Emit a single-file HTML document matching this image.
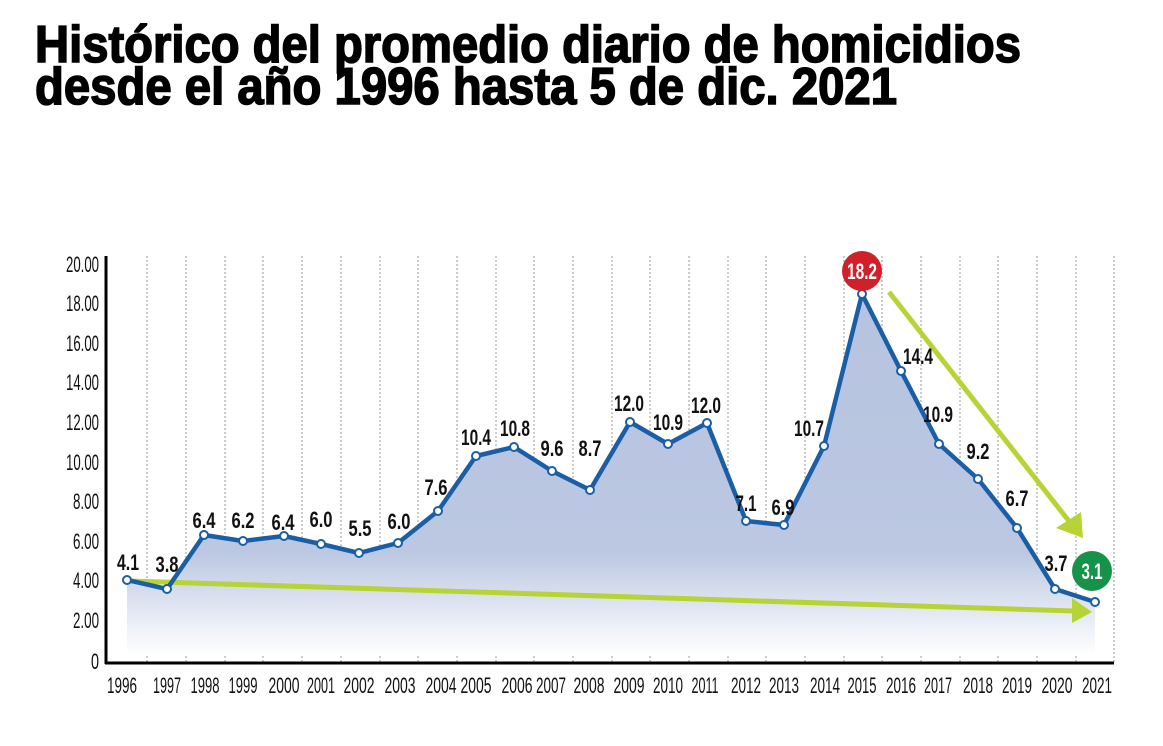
<!DOCTYPE html>
<html><head><meta charset="utf-8"><style>
html,body{margin:0;padding:0;background:#fff;}
svg{display:block;}
.t{font-family:"Liberation Sans",sans-serif;font-weight:bold;font-size:52px;fill:#000;stroke:#000;stroke-width:1.6;}
.yl{font-family:"Liberation Sans",sans-serif;font-size:22px;fill:#111;}
.xl{font-family:"Liberation Sans",sans-serif;font-size:22px;fill:#111;}
.v{font-family:"Liberation Sans",sans-serif;font-weight:bold;font-size:22px;fill:#111;}
</style></head><body>
<svg width="1163" height="746" viewBox="0 0 1163 746" xmlns="http://www.w3.org/2000/svg">
<defs>
<linearGradient id="fill" x1="0" y1="290" x2="0" y2="655" gradientUnits="userSpaceOnUse">
<stop offset="0" stop-color="#b6c3df"/>
<stop offset="0.72" stop-color="#bcc8e2"/>
<stop offset="1" stop-color="#ffffff"/>
</linearGradient>
</defs>
<text class="t" x="35" y="62" textLength="986" lengthAdjust="spacingAndGlyphs">Histórico del promedio diario de homicidios</text>
<text class="t" x="35" y="104" textLength="862" lengthAdjust="spacingAndGlyphs">desde el año 1996 hasta 5 de dic. 2021</text>

<g stroke="#aaa" stroke-width="1.2" stroke-dasharray="2,2">
<line x1="147" y1="256" x2="147" y2="662"/><line x1="186" y1="256" x2="186" y2="662"/><line x1="225" y1="256" x2="225" y2="662"/><line x1="263" y1="256" x2="263" y2="662"/><line x1="302" y1="256" x2="302" y2="662"/><line x1="341" y1="256" x2="341" y2="662"/><line x1="380" y1="256" x2="380" y2="662"/><line x1="418" y1="256" x2="418" y2="662"/><line x1="457" y1="256" x2="457" y2="662"/><line x1="496" y1="256" x2="496" y2="662"/><line x1="534" y1="256" x2="534" y2="662"/><line x1="573" y1="256" x2="573" y2="662"/><line x1="612" y1="256" x2="612" y2="662"/><line x1="650" y1="256" x2="650" y2="662"/><line x1="689" y1="256" x2="689" y2="662"/><line x1="728" y1="256" x2="728" y2="662"/><line x1="766" y1="256" x2="766" y2="662"/><line x1="805" y1="256" x2="805" y2="662"/><line x1="844" y1="256" x2="844" y2="662"/><line x1="882" y1="256" x2="882" y2="662"/><line x1="921" y1="256" x2="921" y2="662"/><line x1="960" y1="256" x2="960" y2="662"/><line x1="998" y1="256" x2="998" y2="662"/><line x1="1037" y1="256" x2="1037" y2="662"/><line x1="1076" y1="256" x2="1076" y2="662"/><line x1="1114" y1="256" x2="1114" y2="662"/>
</g>

<polygon fill="url(#fill)" points="127,580 167,589 204,535 243,541 284,536 321,544 359,553 398,543 438,511 476,456 514,447 552,471 590,490 630,422 668,444 707,423 746,521 784,525 824,446 862,294 901,371 939,444 978,479 1017,528 1055,589 1095,602 1095,655 127,655"/>

<g stroke="#000" stroke-width="3" fill="none">
<line x1="106" y1="256" x2="106" y2="664"/>
<line x1="105" y1="663" x2="1114" y2="663"/>
</g>

<g class="yl" text-anchor="end" lengthAdjust="spacingAndGlyphs">
<text x="99" y="272" textLength="33" lengthAdjust="spacingAndGlyphs">20.00</text><text x="99" y="311" textLength="33" lengthAdjust="spacingAndGlyphs">18.00</text><text x="99" y="351" textLength="33" lengthAdjust="spacingAndGlyphs">16.00</text><text x="99" y="390" textLength="33" lengthAdjust="spacingAndGlyphs">14.00</text><text x="99" y="430" textLength="33" lengthAdjust="spacingAndGlyphs">12.00</text><text x="99" y="470" textLength="33" lengthAdjust="spacingAndGlyphs">10.00</text><text x="99" y="509" textLength="26" lengthAdjust="spacingAndGlyphs">8.00</text><text x="99" y="549" textLength="26" lengthAdjust="spacingAndGlyphs">6.00</text><text x="99" y="588" textLength="26" lengthAdjust="spacingAndGlyphs">4.00</text><text x="99" y="628" textLength="26" lengthAdjust="spacingAndGlyphs">2.00</text><text x="99" y="669" textLength="8" lengthAdjust="spacingAndGlyphs">0</text>
</g>

<g stroke="#b7d335" stroke-width="5" fill="#b7d335">
<line x1="130" y1="581" x2="1075" y2="611"/>
<polygon stroke="none" points="1072,598 1092,612 1072,623"/>
<line x1="889" y1="292" x2="1072" y2="525"/>
<polygon stroke="none" points="1056,528 1083,538 1081,512"/>
</g>

<polyline fill="none" stroke="#1a5ea6" stroke-width="4.5" stroke-linejoin="round" points="127,580 167,589 204,535 243,541 284,536 321,544 359,553 398,543 438,511 476,456 514,447 552,471 590,490 630,422 668,444 707,423 746,521 784,525 824,446 862,294 901,371 939,444 978,479 1017,528 1055,589 1095,602"/>
<g fill="#fff" stroke="#1a5ea6" stroke-width="2">
<circle cx="127" cy="580" r="4"/><circle cx="167" cy="589" r="4"/><circle cx="204" cy="535" r="4"/><circle cx="243" cy="541" r="4"/><circle cx="284" cy="536" r="4"/><circle cx="321" cy="544" r="4"/><circle cx="359" cy="553" r="4"/><circle cx="398" cy="543" r="4"/><circle cx="438" cy="511" r="4"/><circle cx="476" cy="456" r="4"/><circle cx="514" cy="447" r="4"/><circle cx="552" cy="471" r="4"/><circle cx="590" cy="490" r="4"/><circle cx="630" cy="422" r="4"/><circle cx="668" cy="444" r="4"/><circle cx="707" cy="423" r="4"/><circle cx="746" cy="521" r="4"/><circle cx="784" cy="525" r="4"/><circle cx="824" cy="446" r="4"/><circle cx="862" cy="294" r="4"/><circle cx="901" cy="371" r="4"/><circle cx="939" cy="444" r="4"/><circle cx="978" cy="479" r="4"/><circle cx="1017" cy="528" r="4"/><circle cx="1055" cy="589" r="4"/><circle cx="1095" cy="602" r="4"/>
</g>

<g class="v" text-anchor="middle">
<text x="128" y="570" textLength="22" lengthAdjust="spacingAndGlyphs">4.1</text><text x="167" y="572" textLength="23" lengthAdjust="spacingAndGlyphs">3.8</text><text x="204" y="528" textLength="23" lengthAdjust="spacingAndGlyphs">6.4</text><text x="243" y="528" textLength="23" lengthAdjust="spacingAndGlyphs">6.2</text><text x="283" y="530" textLength="23" lengthAdjust="spacingAndGlyphs">6.4</text><text x="321" y="527" textLength="23" lengthAdjust="spacingAndGlyphs">6.0</text><text x="360" y="536" textLength="23" lengthAdjust="spacingAndGlyphs">5.5</text><text x="399" y="529" textLength="23" lengthAdjust="spacingAndGlyphs">6.0</text><text x="436" y="495" textLength="23" lengthAdjust="spacingAndGlyphs">7.6</text><text x="476" y="445" textLength="30" lengthAdjust="spacingAndGlyphs">10.4</text><text x="515" y="436" textLength="30" lengthAdjust="spacingAndGlyphs">10.8</text><text x="552" y="456" textLength="23" lengthAdjust="spacingAndGlyphs">9.6</text><text x="590" y="456" textLength="23" lengthAdjust="spacingAndGlyphs">8.7</text><text x="629" y="411" textLength="30" lengthAdjust="spacingAndGlyphs">12.0</text><text x="668" y="430" textLength="30" lengthAdjust="spacingAndGlyphs">10.9</text><text x="706" y="413" textLength="30" lengthAdjust="spacingAndGlyphs">12.0</text><text x="746" y="511" textLength="21" lengthAdjust="spacingAndGlyphs">7.1</text><text x="783" y="515" textLength="23" lengthAdjust="spacingAndGlyphs">6.9</text><text x="809" y="436" textLength="30" lengthAdjust="spacingAndGlyphs">10.7</text><text x="918" y="364" textLength="30" lengthAdjust="spacingAndGlyphs">14.4</text><text x="938" y="422" textLength="30" lengthAdjust="spacingAndGlyphs">10.9</text><text x="978" y="459" textLength="23" lengthAdjust="spacingAndGlyphs">9.2</text><text x="1017" y="506" textLength="23" lengthAdjust="spacingAndGlyphs">6.7</text><text x="1056" y="571" textLength="23" lengthAdjust="spacingAndGlyphs">3.7</text>
</g>

<circle cx="862" cy="271" r="20" fill="#d0202a"/>
<text class="v" x="862" y="279" text-anchor="middle" style="fill:#fff" textLength="30" lengthAdjust="spacingAndGlyphs">18.2</text>
<circle cx="1092" cy="571" r="20" fill="#17924a"/>
<text class="v" x="1092" y="579" text-anchor="middle" style="fill:#fff" textLength="21" lengthAdjust="spacingAndGlyphs">3.1</text>

<g class="xl" text-anchor="middle">
<text x="122" y="693" textLength="30" lengthAdjust="spacingAndGlyphs">1996</text><text x="167" y="693" textLength="28" lengthAdjust="spacingAndGlyphs">1997</text><text x="205" y="693" textLength="29" lengthAdjust="spacingAndGlyphs">1998</text><text x="243" y="693" textLength="29" lengthAdjust="spacingAndGlyphs">1999</text><text x="284" y="693" textLength="31" lengthAdjust="spacingAndGlyphs">2000</text><text x="321" y="693" textLength="28" lengthAdjust="spacingAndGlyphs">2001</text><text x="359" y="693" textLength="31" lengthAdjust="spacingAndGlyphs">2002</text><text x="400" y="693" textLength="31" lengthAdjust="spacingAndGlyphs">2003</text><text x="441" y="693" textLength="31" lengthAdjust="spacingAndGlyphs">2004</text><text x="476" y="693" textLength="31" lengthAdjust="spacingAndGlyphs">2005</text><text x="517" y="693" textLength="31" lengthAdjust="spacingAndGlyphs">2006</text><text x="551" y="693" textLength="30" lengthAdjust="spacingAndGlyphs">2007</text><text x="589" y="693" textLength="31" lengthAdjust="spacingAndGlyphs">2008</text><text x="629" y="693" textLength="31" lengthAdjust="spacingAndGlyphs">2009</text><text x="668" y="693" textLength="30" lengthAdjust="spacingAndGlyphs">2010</text><text x="705" y="693" textLength="27" lengthAdjust="spacingAndGlyphs">2011</text><text x="746" y="693" textLength="30" lengthAdjust="spacingAndGlyphs">2012</text><text x="784" y="693" textLength="30" lengthAdjust="spacingAndGlyphs">2013</text><text x="825" y="693" textLength="30" lengthAdjust="spacingAndGlyphs">2014</text><text x="862" y="693" textLength="29" lengthAdjust="spacingAndGlyphs">2015</text><text x="901" y="693" textLength="30" lengthAdjust="spacingAndGlyphs">2016</text><text x="938" y="693" textLength="28" lengthAdjust="spacingAndGlyphs">2017</text><text x="978" y="693" textLength="30" lengthAdjust="spacingAndGlyphs">2018</text><text x="1017" y="693" textLength="30" lengthAdjust="spacingAndGlyphs">2019</text><text x="1057" y="693" textLength="31" lengthAdjust="spacingAndGlyphs">2020</text><text x="1097" y="693" textLength="30" lengthAdjust="spacingAndGlyphs">2021</text>
</g>
</svg>
</body></html>
